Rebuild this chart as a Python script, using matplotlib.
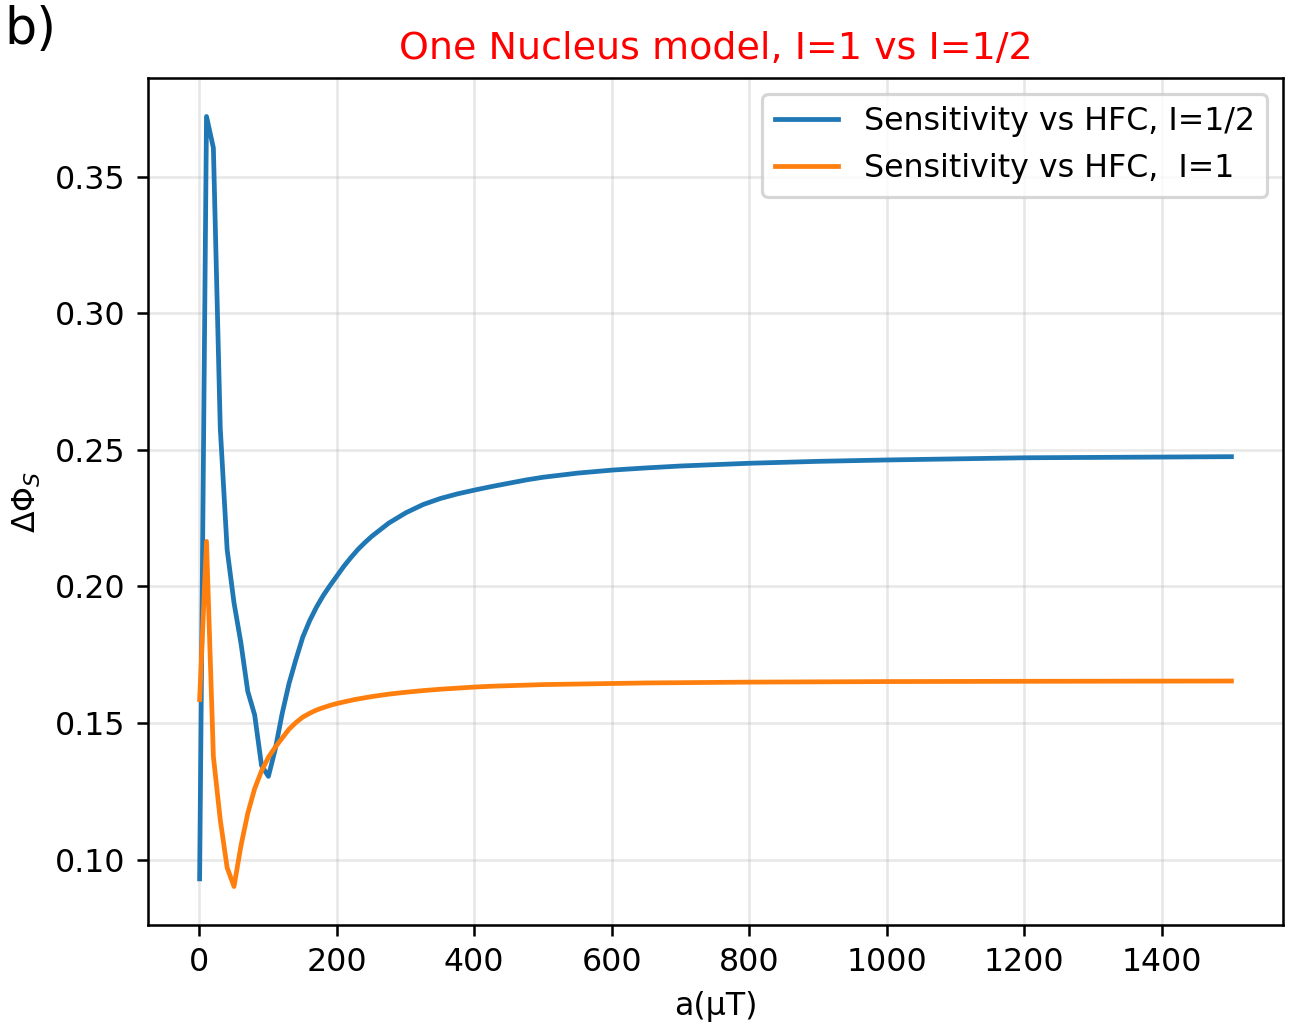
import numpy as np
import matplotlib
matplotlib.use('Agg')
import matplotlib.pyplot as plt

# hyperfine coupling a (uT)
a_half = [1, 11, 21, 31, 41, 51, 61, 71, 81, 91, 101, 111, 121, 131, 141, 151, 161,
          171, 181, 191, 201, 211, 221, 231, 241, 251, 276, 301, 326, 351, 376, 401,
          426, 451, 476, 501, 551, 601, 651, 701, 751, 801, 901, 1001, 1201, 1501]
# sensitivity, I=1/2
dphi_half = [0.0930, 0.3720, 0.3605, 0.2580, 0.2135, 0.1940, 0.1794, 0.1616, 0.1530,
             0.1345, 0.1305, 0.1405, 0.1535, 0.1645, 0.1733, 0.1815, 0.1875, 0.1925,
             0.1968, 0.2005, 0.2040, 0.2075, 0.2106, 0.2135, 0.2160, 0.2183, 0.2232,
             0.2270, 0.2300, 0.2322, 0.2339, 0.2353, 0.2366, 0.2378, 0.2390, 0.2400,
             0.2415, 0.2426, 0.2434, 0.2441, 0.2446, 0.2451, 0.2458, 0.2463, 0.2471,
             0.2475]

a_one = [1, 11, 21, 31, 41, 51, 61, 71, 81, 91, 101, 111, 121, 131, 141, 151, 161,
         171, 181, 191, 201, 226, 251, 276, 301, 326, 351, 376, 401, 426, 451, 476,
         501, 551, 601, 651, 701, 751, 801, 901, 1001, 1201, 1501]
# sensitivity, I=1
dphi_one = [0.1586, 0.2165, 0.1378, 0.1146, 0.0971, 0.0902, 0.1050, 0.1170, 0.1260,
            0.1325, 0.1375, 0.1412, 0.1445, 0.1478, 0.1502, 0.1522, 0.1536, 0.1548,
            0.1557, 0.1565, 0.1572, 0.1586, 0.1597, 0.1606, 0.1613, 0.1619, 0.1624,
            0.1628, 0.1632, 0.1635, 0.1637, 0.1639, 0.1641, 0.1643, 0.1645, 0.1647,
            0.1648, 0.1649, 0.1650, 0.1651, 0.1652, 0.1653, 0.1654]

fig = plt.figure(figsize=(1294 / 228, 1022 / 228), dpi=228)
ax = fig.add_axes([0.1144, 0.0949, 0.8771, 0.8288])

ax.plot(a_half, dphi_half, label='Sensitivity vs HFC, I=1/2')
ax.plot(a_one, dphi_one, label='Sensitivity vs HFC,  I=1')
ax.grid(alpha=0.3)
ax.set_xlabel('a(μT)')
ax.set_ylabel(r'$\Delta\Phi_S$')
ax.set_title('One Nucleus model, I=1 vs I=1/2', color='r', fontsize=12)
ax.legend(loc='upper right')

fig.text(0.003, 0.995, 'b)', fontsize=16, va='top', ha='left')

fig.savefig('out.png', dpi=228)
